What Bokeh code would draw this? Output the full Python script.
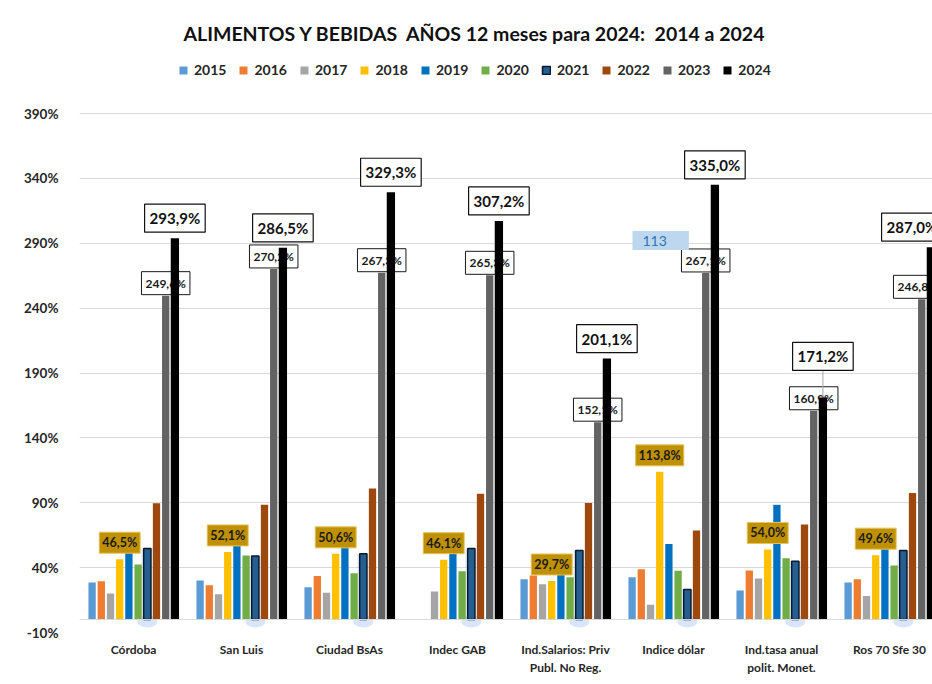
import numpy as np
from bokeh.plotting import figure
from bokeh.models import (ColumnDataSource, FixedTicker, Label, Legend, LegendItem,
                          Span, Range1d)
from bokeh.core.properties import value
from bokeh.embed import file_html
from bokeh.resources import INLINE

nan = float("nan")

title_text = "ALIMENTOS Y BEBIDAS\u00a0 AÑOS 12 meses para 2024:\u00a0 2014 a 2024"
categories = ["Córdoba", "San Luis", "Ciudad BsAs", "Indec GAB",
              "Ind.Salarios: Priv\nPubl. No Reg.", "Indice dólar",
              "Ind.tasa anual\npolit. Monet.", "Ros 70 Sfe 30"]
years = ["2015", "2016", "2017", "2018", "2019", "2020", "2021", "2022", "2023", "2024"]

v2015 = [28.5, 30.0, 24.9, nan, 31.0, 32.6, 22.3, 28.5]
v2016 = [29.5, 26.4, 33.6, nan, 34.0, 38.8, 37.7, 31.0]
v2017 = [20.0, 19.5, 20.6, 21.6, 27.2, 11.3, 31.6, 18.2]
v2018 = [46.5, 52.1, 50.6, 46.1, 29.7, 113.8, 54.0, 49.6]
v2019 = [52.0, 57.0, 58.0, 53.0, 35.0, 58.3, 88.4, 56.0]
v2020 = [42.4, 49.3, 35.7, 37.2, 32.6, 37.5, 47.2, 41.6]
v2021 = [54.7, 49.0, 50.6, 54.7, 53.2, 23.1, 44.9, 53.2]
v2022 = [89.6, 88.4, 101.0, 97.0, 89.9, 68.6, 73.2, 97.6]
v2023 = [249.6, 270.2, 267.3, 265.3, 152.1, 267.1, 160.9, 246.8]
v2024 = [293.9, 286.5, 329.3, 307.2, 201.1, 335.0, 171.2, 287.0]

series = [v2015, v2016, v2017, v2018, v2019, v2020, v2021, v2022, v2023, v2024]
colors = ["#5b9bd5", "#ed7d31", "#a5a5a5", "#ffc000", "#0070c0",
          "#70ad47", "#255e91", "#9e480e", "#636363", "#000000"]

y_ticks = [-10, 40, 90, 140, 190, 240, 290, 340, 390]

FONT = value("Lato")

W, H = 932, 684
left_b, right_b, top_b, bottom_b = 79, 0, 50, 52
px_per_group = 108.0
frame_w = W - left_b - right_b
frame_h = H - top_b - bottom_b
# the 390% gridline sits 63px below the frame top
px_per_pct = (frame_h - 63) / 400.0
y_top = 390 + 63 / px_per_pct

p = figure(width=W, height=H, output_backend="svg", toolbar_location=None,
           x_range=Range1d(-0.5, -0.5 + frame_w / px_per_group),
           y_range=Range1d(-10, y_top),
           min_border_left=left_b, min_border_right=right_b,
           min_border_top=top_b, min_border_bottom=bottom_b,
           background_fill_color="white", border_fill_color="white")
p.outline_line_color = None

p.title.text = title_text
p.title.text_font = "Lato"
p.title.text_font_size = "19.5px"
p.title.text_font_style = "bold"
p.title.text_color = "#111111"
p.title.align = "left"
p.title.offset = 104
p.title.standoff = 12

# axes
p.yaxis.ticker = FixedTicker(ticks=y_ticks)
p.yaxis.major_label_overrides = {t: f"{t}%" for t in y_ticks}
p.yaxis.axis_line_color = None
p.yaxis.major_tick_line_color = None
p.yaxis.minor_tick_line_color = None
p.yaxis.major_label_text_font = "Lato"
p.yaxis.major_label_text_font_style = "bold"
p.yaxis.major_label_text_font_size = "13.5px"
p.yaxis.major_label_text_color = "#262626"
p.yaxis.major_label_standoff = 15

n = len(categories)
centers = np.arange(n)
p.xaxis.ticker = FixedTicker(ticks=list(range(n)))
p.xaxis.major_label_overrides = {i: c for i, c in enumerate(categories)}
p.xaxis.axis_line_color = None
p.xaxis.major_tick_line_color = None
p.xaxis.minor_tick_line_color = None
p.xaxis.major_label_text_font = "Lato"
p.xaxis.major_label_text_font_style = "bold"
p.xaxis.major_label_text_font_size = "12px"
p.xaxis.major_label_text_color = "#262626"
p.xaxis.major_label_standoff = 3

p.xgrid.visible = False
p.ygrid.ticker = FixedTicker(ticks=y_ticks)
p.ygrid.grid_line_color = "#d9d9d9"
p.ygrid.grid_line_width = 1

p.add_layout(Span(location=0, dimension="width", line_color="#d9d9d9", line_width=1))

slot = 9.2 / px_per_group
bw = 7.3 / px_per_group

def fmt(v):
    return f"{v:.1f}".replace(".", ",") + "%"

# soft glow behind the 2021 bars
gx = centers + (6 - 4.5) * slot
glow = ColumnDataSource(dict(x=gx, top=np.array(v2021, float), y0=np.full(n, -1.5)))
p.vbar(x="x", top="top", bottom=0, width=bw + 5 / px_per_group, source=glow,
       fill_color="#9fc5f8", fill_alpha=0.25, line_color=None)
p.ellipse(x="x", y="y0", width=20, height=12, width_units="screen", height_units="screen",
          source=glow, fill_color="#8fb4f0", fill_alpha=0.35, line_color=None)

renderers = []
for i in range(9):
    xs = centers + (i - 4.5) * slot
    src = ColumnDataSource(dict(x=xs, top=np.array(series[i], float)))
    if years[i] == "2021":
        r = p.vbar(x="x", top="top", bottom=0, width=bw, source=src,
                   fill_color=colors[i], line_color="#0b1a2a", line_width=1.5)
    else:
        r = p.vbar(x="x", top="top", bottom=0, width=bw, source=src,
                   fill_color=colors[i], line_color=None)
    renderers.append(r)

# labels near the right edge are pulled left, as the source does
edge_dx23 = [0] * (n - 1) + [-4]
edge_dx24 = [0] * (n - 1) + [-19]

# 2018 labels (gold)
x18 = centers + (3 - 4.5) * slot
s18 = ColumnDataSource(dict(x=x18, y=np.array(v2018, float), t=[fmt(v) for v in v2018]))
p.text(x="x", y="y", text="t", source=s18, text_align="center", text_baseline="bottom",
       y_offset=-6, text_font=FONT, text_font_style="bold", text_font_size="12.5px",
       text_color="#1a1a1a", background_fill_color="#bf9000",
       border_line_color="#e6c35c", border_line_width=1, padding=3)

# 2023 labels
x23 = centers + (8 - 4.5) * slot
s23 = ColumnDataSource(dict(x=x23, y=np.array(v2023, float), t=[fmt(v) for v in v2023],
                            xo=edge_dx23))
p.text(x="x", y="y", text="t", source=s23, text_align="center", text_baseline="bottom",
       x_offset="xo", y_offset=-1, text_font=FONT, text_font_style="bold",
       text_font_size="12px", text_color="#1a1a1a", background_fill_color="white",
       border_line_color="#1a1a1a", border_line_width=1, padding=4)

# 2024 bars drawn over the 2023 labels
x24 = centers + (9 - 4.5) * slot
s24b = ColumnDataSource(dict(x=x24, top=np.array(v2024, float)))
r24 = p.vbar(x="x", top="top", bottom=0, width=bw + 1 / px_per_group, source=s24b,
             fill_color=colors[9], line_color=None)
renderers.append(r24)

# 2024 labels (one lifted with a leader line, as in the source)
lift = [6.0] * n
lift[6] = 27.0
s24 = ColumnDataSource(dict(x=x24, y=np.array(v2024, float), t=[fmt(v) for v in v2024],
                            yo=[-l for l in lift], xo=edge_dx24))
lead = [(x24[i], v2024[i], v2024[i] + lift[i] / px_per_pct) for i in range(n) if lift[i] > 20]
if lead:
    p.segment(x0=[a for a, _, _ in lead], y0=[b for _, b, _ in lead],
              x1=[a for a, _, _ in lead], y1=[c for _, _, c in lead],
              line_color="#a6a6a6", line_width=1)
p.text(x="x", y="y", text="t", source=s24, text_align="center", text_baseline="bottom",
       x_offset="xo", y_offset="yo", text_font=FONT, text_font_style="bold",
       text_font_size="15px", text_color="#111111", background_fill_color="white",
       border_line_color="#111111", border_line_width=1.2, padding=5)

# stray label present in the source image
p.add_layout(Label(x=(632 - left_b) / px_per_group - 0.5,
                   y=(619.5 - 250) / 1.2975, text="113", text_align="left",
                   text_baseline="bottom",
                   text_font="Lato", text_font_size="14px", text_color="#2e75b6",
                   background_fill_color="#bdd7ee",
                   padding=dict(left=10, right=22, top=5, bottom=4)))

legend = Legend(items=[LegendItem(label=years[i], renderers=[renderers[i]]) for i in range(10)],
                orientation="horizontal", location=(99, frame_h - 28),
                glyph_width=10, glyph_height=10, label_standoff=6, spacing=12,
                padding=0, margin=0, border_line_color=None, background_fill_alpha=0,
                label_text_font="Lato", label_text_font_style="bold",
                label_text_font_size="14px", label_text_color="#262626")
p.add_layout(legend, "center")

open("out.html", "w").write(file_html(p, INLINE))
